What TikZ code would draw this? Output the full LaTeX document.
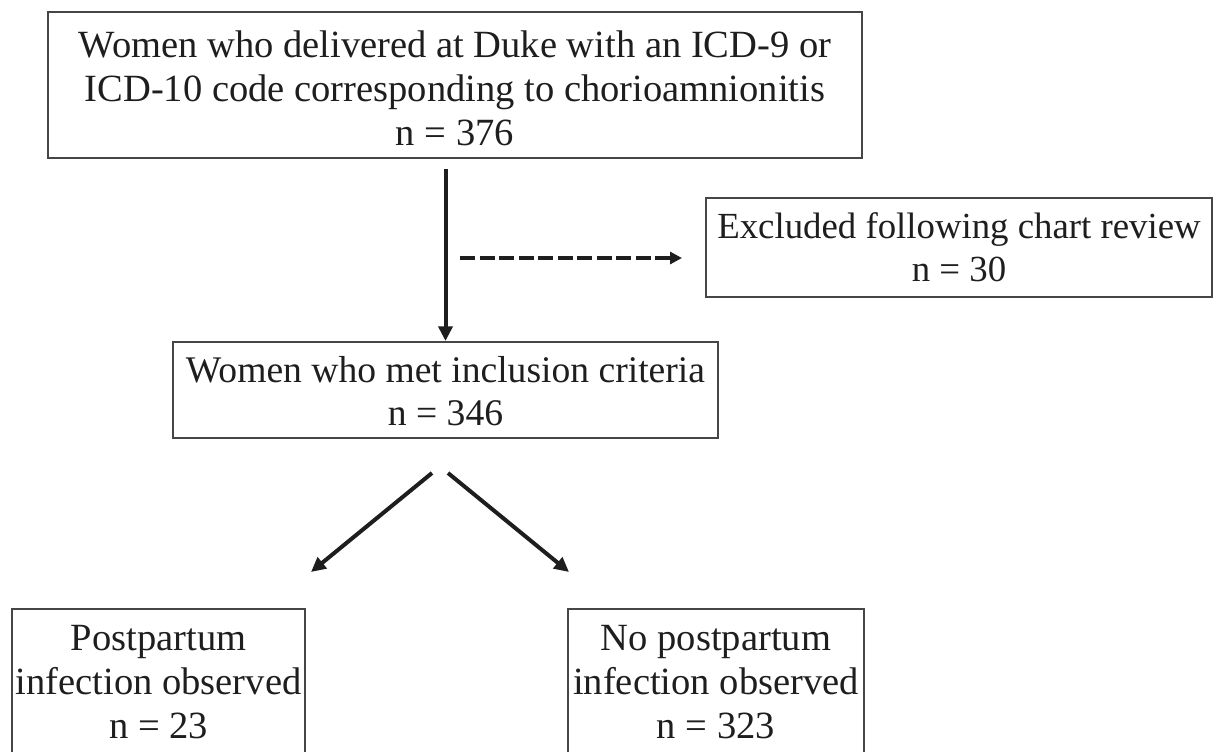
\documentclass[tikz,border=0pt]{standalone}
\usepackage{fontspec}
\setmainfont{Liberation Serif}
\usetikzlibrary{arrows.meta,calc}

\definecolor{boxgray}{RGB}{70,70,70}
\definecolor{inkblack}{RGB}{30,30,30}

\tikzset{every picture/.style={line width=0.75pt}}
\tikzset{
  flowbox/.style={draw=boxgray, line width=1.5pt, align=center, inner sep=0pt, text=inkblack,
    font=\fontsize{28.9}{33}\selectfont},
  mainarrow/.style={draw=inkblack, line width=3pt, -{Triangle[length=11pt,width=10.5pt]}},
  dasharrow/.style={draw=inkblack, line width=2.7pt, dash pattern=on 11.25pt off 3.4pt,
    -{Triangle[length=9pt,width=9pt]}}
}

\begin{document}
\begin{tikzpicture}[x=0.75pt,y=0.75pt,yscale=-1,xscale=1]
    \useasboundingbox (0,0) rectangle (1214,751);

    % Text Node
    \node [flowbox, minimum width=610.5pt, minimum height=109.5pt] (cohort) at (455,85)
      {\rule{0pt}{25pt}Women who delivered at Duke with an ICD-9 or\\ICD-10 code corresponding to chorioamnionitis\\n = 376};
    % Text Node
    \node [flowbox, font=\fontsize{27.6}{32}\selectfont, minimum width=379.5pt, minimum height=74.25pt] (excluded) at (959,247.5)
      {Excluded following chart review\\n = 30};
    % Text Node
    \node [flowbox, font=\fontsize{28.2}{32}\selectfont, minimum width=408.75pt, minimum height=72pt] (included) at (445.5,390)
      {\rule{0pt}{21pt}Women who met inclusion criteria\\n = 346};
    % Text Node
    \node [flowbox, anchor=north, minimum width=219.75pt, inner ysep=12pt] (infected) at (158.5,608)
      {Postpartum\\infection observed\\n = 23};
    % Text Node
    \node [flowbox, anchor=north, minimum width=222pt, inner ysep=12pt] (noinfect) at (716,608)
      {No postpartum\\infection observed\\n = 323};

    %Straight Lines
    \draw [mainarrow] ($(included.north |- cohort.south)+(0,10)$) -- (included.north);
    \coordinate (branch) at (460,258);
    \draw [dasharrow] (branch) -- ($(excluded.west |- branch)+(-23,0)$);

    %Straight Lines
    \draw [mainarrow] ($(included.south)+(-13.5,34)$) -- ($(infected.north east)+(5,-36)$);
    \draw [mainarrow] ($(included.south)+(2.5,34)$) -- ($(noinfect.north west)+(2,-36)$);
\end{tikzpicture}
\end{document}
